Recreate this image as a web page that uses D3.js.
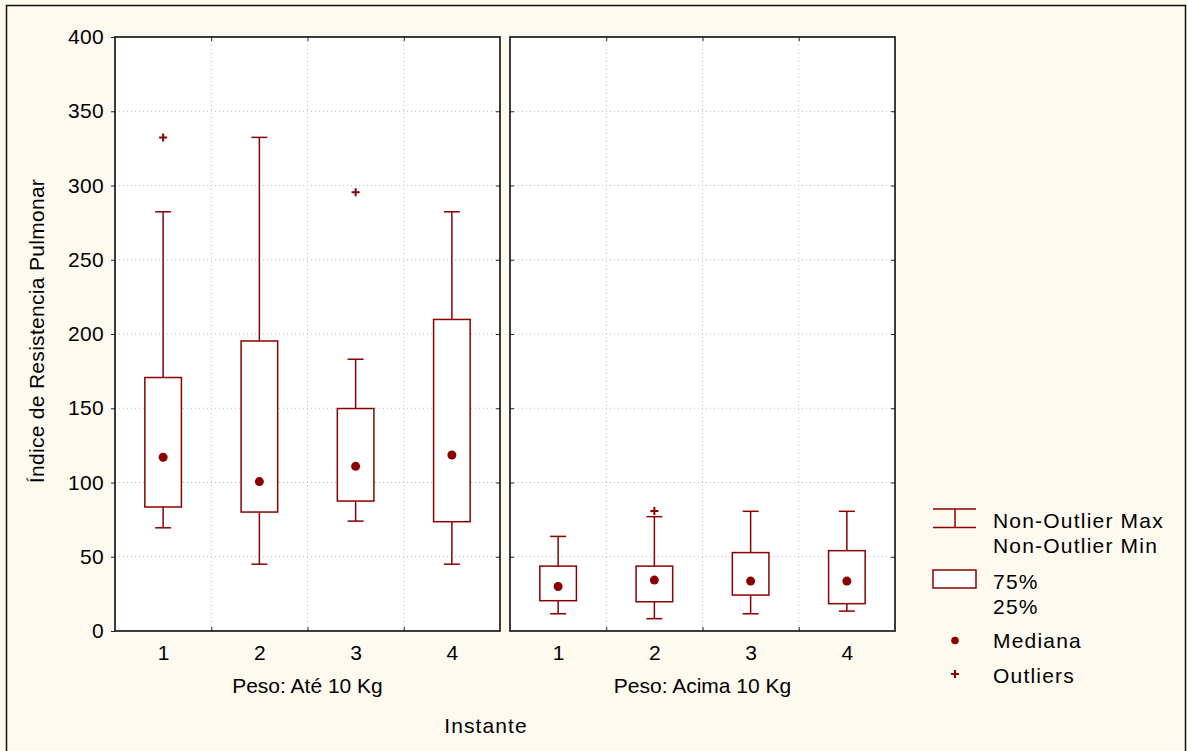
<!DOCTYPE html>
<html>
<head>
<meta charset="utf-8">
<style>
body { margin: 0; background: #fffaf0; }
svg { display: block; }
text {
  font-family: "Liberation Sans", Arial, sans-serif;
  font-size: 21px;
  fill: #000;
}
.axis .domain { display: none; }
.axis line { stroke: #222; }
.grid line {
  stroke: #bcbcbc;
  stroke-dasharray: 1,3;
}
.frame {
  fill: none;
  stroke: #1a1a1a;
  stroke-width: 1.7px;
}
.box, .whisker, .cap {
  fill: #fff;
  stroke: #8b0000;
  stroke-width: 1.5px;
}
.median { fill: #8b0000; }
.outlier {
  stroke: #8b0000;
  stroke-width: 2px;
}
</style>
</head>
<body>
<svg width="1187" height="751"></svg>
<script src="https://d3js.org/d3.v7.min.js"></script>
<script>
// ---- data ----
var groups = ["Peso: Até 10 Kg", "Peso: Acima 10 Kg"];
var instantes = ["1", "2", "3", "4"];
var yTicks = [0, 50, 100, 150, 200, 250, 300, 350, 400];

// one row per weight group, one value per instante
var whiskerMin = [[69.5, 45, 74, 45], [11.6, 8.3, 11.6, 13.4]];
var q1 = [[83.5, 80.1, 87.5, 73.6], [20.4, 19.7, 24.2, 18.4]];
var median = [[117, 100.6, 110.9, 118.5], [30, 34.3, 33.6, 33.6]];
var q3 = [[170.7, 195.3, 149.8, 209.8], [43.7, 43.7, 52.8, 54.1]];
var whiskerMax = [[282.3, 332.4, 183, 282.3], [63.7, 77, 80.6, 80.6]];
// outliers: [group, instante, value]
var outliers = [[0, "1", 332.4], [0, "3", 295.5], [1, "2", 80.8]];

var svg = d3.select("svg");

// outer frame
svg.append("rect")
    .attr("x", 6.5).attr("y", 5.5)
    .attr("width", 1179).attr("height", 760)
    .attr("fill", "#fffaf0")
    .attr("stroke", "#111")
    .attr("stroke-width", 1.5);

var plotTop = 37, plotBottom = 631;

var y = d3.scaleLinear().domain([0, 400]).range([plotBottom, plotTop]);

var xPanel = d3.scaleBand()
    .domain(groups)
    .range([115, 895])
    .paddingInner(10 / 395);

var xInner = d3.scaleBand()
    .domain(instantes)
    .range([0, xPanel.bandwidth()]);

var boxW = xInner.bandwidth() * 0.38,
    capW = xInner.bandwidth() * 0.166;

groups.forEach(function(gName, gi) {
  var g = svg.append("g")
      .attr("transform", "translate(" + xPanel(gName) + ",0)");
  var w = xPanel.bandwidth();

  g.append("rect")
      .attr("x", 0).attr("y", plotTop)
      .attr("width", w).attr("height", plotBottom - plotTop)
      .attr("fill", "#fff");

  // grid
  var grid = g.append("g").attr("class", "grid");
  grid.selectAll(".h")
      .data(yTicks.slice(1, -1))
    .enter().append("line")
      .attr("x1", 0).attr("x2", w)
      .attr("y1", function(d) { return y(d); })
      .attr("y2", function(d) { return y(d); });
  grid.selectAll(".v")
      .data(instantes.slice(1))
    .enter().append("line")
      .attr("x1", function(d) { return xInner(d); })
      .attr("x2", function(d) { return xInner(d); })
      .attr("y1", plotTop).attr("y2", plotBottom);

  // ticks
  if (gi === 0) {
    g.append("g")
        .attr("class", "axis")
        .call(d3.axisLeft(y).tickValues(yTicks).tickSize(4).tickPadding(7))
        .selectAll("text")
        .style("font-size", "21px")
        .attr("font-family", null)
        .attr("letter-spacing", "0.3px");
  } else {
    g.append("g")
        .attr("class", "axis")
        .call(d3.axisRight(y).tickValues(yTicks.slice(1, -1)).tickSize(4).tickFormat(""));
  }
  g.append("g")
      .attr("class", "axis")
      .attr("transform", "translate(" + w + ",0)")
      .call(d3.axisLeft(y).tickValues(yTicks.slice(1, -1)).tickSize(4).tickFormat(""));

  var xAxisScale = d3.scalePoint().domain(instantes).range([xInner.bandwidth() / 2, w - xInner.bandwidth() / 2]);
  var xEdge = d3.scaleLinear().domain([0, 4]).range([0, w]);
  g.append("g")
      .attr("class", "axis")
      .attr("transform", "translate(0," + plotBottom + ")")
      .call(d3.axisTop(xEdge).tickValues([1, 2, 3]).tickSize(4).tickFormat(""));
  g.append("g")
      .attr("class", "axis")
      .attr("transform", "translate(0," + plotTop + ")")
      .call(d3.axisBottom(xEdge).tickValues([1, 2, 3]).tickSize(4).tickFormat(""));
  var xa = g.append("g")
      .attr("class", "axis")
      .attr("transform", "translate(0," + plotBottom + ")")
      .call(d3.axisBottom(xAxisScale).tickSize(0).tickPadding(14));
  xa.selectAll("text")
      .style("font-size", "21px")
      .attr("font-family", null);

  // group label
  g.append("text")
      .attr("x", w / 2)
      .attr("y", 693)
      .attr("text-anchor", "middle")
      .text(gName);

  // boxes
  var boxes = g.selectAll(".bx")
      .data(instantes)
    .enter().append("g")
      .attr("transform", function(d) { return "translate(" + (xInner(d) + xInner.bandwidth() / 2) + ",0)"; });

  boxes.append("line")
      .attr("class", "whisker")
      .attr("x1", 0).attr("x2", 0)
      .attr("y1", function(d, i) { return y(whiskerMax[gi][i]); })
      .attr("y2", function(d, i) { return y(whiskerMin[gi][i]); });
  boxes.append("line")
      .attr("class", "cap")
      .attr("x1", -capW / 2).attr("x2", capW / 2)
      .attr("y1", function(d, i) { return y(whiskerMax[gi][i]); })
      .attr("y2", function(d, i) { return y(whiskerMax[gi][i]); });
  boxes.append("line")
      .attr("class", "cap")
      .attr("x1", -capW / 2).attr("x2", capW / 2)
      .attr("y1", function(d, i) { return y(whiskerMin[gi][i]); })
      .attr("y2", function(d, i) { return y(whiskerMin[gi][i]); });
  boxes.append("rect")
      .attr("class", "box")
      .attr("x", -boxW / 2)
      .attr("width", boxW)
      .attr("y", function(d, i) { return y(q3[gi][i]); })
      .attr("height", function(d, i) { return y(q1[gi][i]) - y(q3[gi][i]); });
  boxes.append("circle")
      .attr("class", "median")
      .attr("r", 4.5)
      .attr("cy", function(d, i) { return y(median[gi][i]); });

  // outliers
  g.selectAll(".out")
      .data(outliers.filter(function(o) { return o[0] === gi; }))
    .enter().append("path")
      .attr("class", "outlier")
      .attr("d", function(o) {
        var cx = xInner(o[1]) + xInner.bandwidth() / 2, cy = y(o[2]);
        return "M" + (cx - 4) + "," + cy + "H" + (cx + 4) + "M" + cx + "," + (cy - 4) + "V" + (cy + 4);
      });

  // panel frame
  g.append("rect")
      .attr("class", "frame")
      .attr("x", 0).attr("y", plotTop)
      .attr("width", w).attr("height", plotBottom - plotTop);
});

// axis titles
svg.append("text")
    .attr("transform", "translate(44,331) rotate(-90)")
    .attr("text-anchor", "middle")
    .attr("letter-spacing", "0.3px")
    .text("Índice de Resistencia Pulmonar");

svg.append("text")
    .attr("x", 486)
    .attr("y", 733)
    .attr("text-anchor", "middle")
    .attr("letter-spacing", "1.1px")
    .text("Instante");

// legend
var lg = svg.append("g").attr("transform", "translate(933,0)");
lg.append("line").attr("class", "cap").attr("x1", 0).attr("x2", 43).attr("y1", 509).attr("y2", 509);
lg.append("line").attr("class", "cap").attr("x1", 0).attr("x2", 43).attr("y1", 527.5).attr("y2", 527.5);
lg.append("line").attr("class", "whisker").attr("x1", 22).attr("x2", 22).attr("y1", 509).attr("y2", 527.5);
lg.append("rect").attr("class", "box").attr("x", 0).attr("y", 570).attr("width", 43).attr("height", 18);
lg.append("circle").attr("class", "median").attr("cx", 22).attr("cy", 640.5).attr("r", 3.8);
lg.append("path").attr("class", "outlier").attr("d", "M18,674H26M22,670V678");

var legendText = [
  ["Non-Outlier Max", 527.5],
  ["Non-Outlier Min", 553],
  ["75%", 589],
  ["25%", 614],
  ["Mediana", 648],
  ["Outliers", 682.5]
];
lg.selectAll(".lt")
    .data(legendText)
  .enter().append("text")
    .attr("x", 60)
    .attr("y", function(d) { return d[1]; })
    .attr("letter-spacing", "1.2px")
    .text(function(d) { return d[0]; });
</script>
</body>
</html>
